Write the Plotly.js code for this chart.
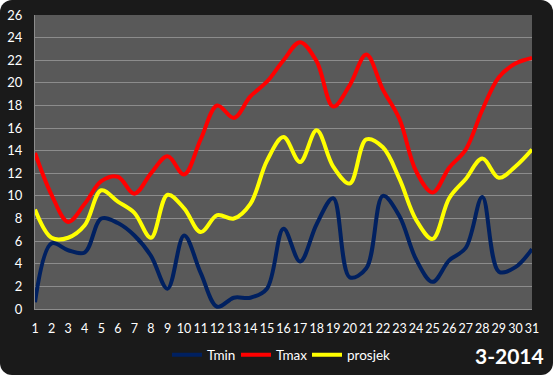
<!DOCTYPE html>
<html>
<head>
<meta charset="utf-8">
<script src="https://cdn.plot.ly/plotly-3.0.1.min.js"></script>
<style>
html,body{margin:0;padding:0;background:#ffffff;}
#wrap{width:553px;height:375px;background:#1a1a1a;border-radius:12px;overflow:hidden;}
#chart{width:553px;height:375px;}
</style>
</head>
<body>
<div id="wrap"><div id="chart"></div></div>
<script>
const days = [1,2,3,4,5,6,7,8,9,10,11,12,13,14,15,16,17,18,19,20,21,22,23,24,25,26,27,28,29,30,31];
const tmin = [0.6,5.8,5.2,5.0,8.0,7.6,6.5,4.7,1.8,6.5,3.2,0.2,1.0,1.0,1.8,7.1,4.2,7.5,9.8,2.8,3.6,10.0,8.2,4.4,2.4,4.3,5.4,9.9,3.3,3.7,5.3];
const tmax = [13.8,10.1,7.7,9.3,11.3,11.7,10.2,12.0,13.5,11.9,15.0,18.0,16.9,18.8,20.1,22.0,23.6,21.9,17.9,19.8,22.5,19.4,16.8,12.2,10.3,12.5,14.1,17.6,20.5,21.7,22.2];
const prosjek = [8.8,6.3,6.3,7.4,10.5,9.5,8.5,6.3,10.1,8.9,6.8,8.3,8.0,9.3,13.1,15.2,13.0,15.8,12.6,11.1,15.0,14.3,11.5,7.9,6.2,9.8,11.5,13.3,11.6,12.6,14.1];
const yTicks = [0,2,4,6,8,10,12,14,16,18,20,22,24,26];
const seriesNames = ['Tmin','Tmax','prosjek'];
const chartTitle = '3-2014';

const mk = (y, name, color, leg) => ({
  x: days, y: y, name: name, type: 'scatter', mode: 'lines',
  line: {color: color, width: 4, shape: 'spline', smoothing: 1},
  legend: leg, hoverinfo: 'skip'
});

const data = [
  mk(tmin, seriesNames[0], '#002060', 'legend'),
  mk(tmax, seriesNames[1], '#ff0000', 'legend2'),
  mk(prosjek, seriesNames[2], '#ffff00', 'legend3')
];

const fontFam = 'Lato, "Open Sans", sans-serif';
const W = 553, H = 375;
const L = 35, R = 532, T = 15, B = 309;
const legAt = (px) => ({
  orientation: 'h', xref: 'container', yref: 'container',
  x: px / W, xanchor: 'left',
  y: (H - 355) / H, yanchor: 'middle',
  itemwidth: 30, bgcolor: 'rgba(0,0,0,0)',
  font: {family: fontFam, color: '#ffffff', size: 13.5}
});
const layout = {
  width: W, height: H,
  margin: {l: L, r: W - R, t: T, b: H - B, pad: 0, autoexpand: false},
  paper_bgcolor: 'rgba(0,0,0,0)',
  plot_bgcolor: '#595959',
  showlegend: true,
  font: {family: fontFam, color: '#ffffff', size: 13},
  xaxis: {
    range: [1, 31], tickvals: days, ticktext: days.map(String),
    showgrid: false, zeroline: false,
    showline: true, linecolor: '#8c8c8c', linewidth: 1,
    ticks: '', ticklabelstandoff: 8, tickangle: 0,
    tickfont: {family: fontFam, color: '#ffffff', size: 12.5},
    fixedrange: true
  },
  yaxis: {
    range: [0, 26], tickvals: yTicks,
    showgrid: true, gridcolor: '#8c8c8c', gridwidth: 1,
    zeroline: false,
    showline: true, linecolor: '#8c8c8c', linewidth: 1,
    ticks: '', ticklabelstandoff: 9,
    tickfont: {family: fontFam, color: '#ffffff', size: 13},
    fixedrange: true
  },
  legend: legAt(167),
  legend2: legAt(236),
  legend3: legAt(307),
  annotations: [{
    text: '<b>' + chartTitle + '</b>', showarrow: false,
    xref: 'paper', yref: 'paper',
    x: (546 - L) / (R - L), xanchor: 'right',
    y: (B - 355) / (B - T), yanchor: 'middle',
    font: {family: fontFam, color: '#ffffff', size: 21}
  }]
};

Plotly.newPlot('chart', data, layout, {displayModeBar: false, staticPlot: true});
</script>
</body>
</html>
